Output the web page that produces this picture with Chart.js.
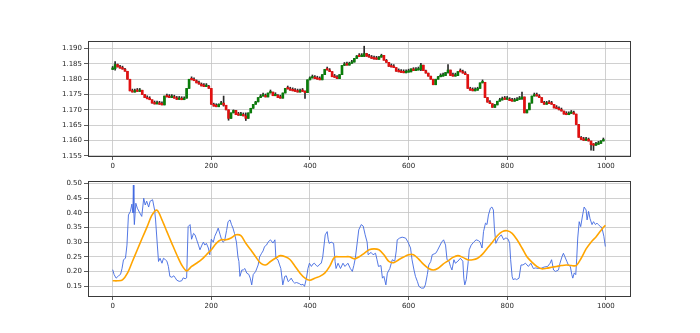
<!DOCTYPE html>
<html>
<head>
<meta charset="utf-8">
<script src="https://cdn.jsdelivr.net/npm/chart.js@4.4.1/dist/chart.umd.min.js"></script>
<style>
  html, body { margin: 0; padding: 0; background: #ffffff; }
  #wrap { position: relative; width: 700px; height: 333px; overflow: hidden; background: #ffffff; }
  #price-canvas { position: absolute; left: 0; top: 0; width: 700px; height: 178px; }
  #vol-canvas { position: absolute; left: 0; top: 165px; width: 700px; height: 168px; }
</style>
</head>
<body>
<div id="wrap">
  <canvas id="price-canvas" width="700" height="178"></canvas>
  <canvas id="vol-canvas" width="700" height="168"></canvas>
</div>
<script>
// price candles, one every 5 bars (open = previous close)
var priceStep = 5;
var firstOpen = 1.1832;
var closes = [
  1.1835, 1.1848, 1.1840, 1.1836, 1.1833, 1.1826, 1.1800, 1.1762, 1.1758, 1.1762,
  1.1760, 1.1764, 1.1750, 1.1740, 1.1736, 1.1733, 1.1722, 1.1719, 1.1721, 1.1718,
  1.1716, 1.1745, 1.1742, 1.1740, 1.1741, 1.1738, 1.1734, 1.1736, 1.1733, 1.1738,
  1.1770, 1.1800, 1.1798, 1.1795, 1.1788, 1.1784, 1.1778, 1.1776, 1.1777, 1.1770,
  1.1718, 1.1712, 1.1710, 1.1718, 1.1722, 1.1715, 1.1700, 1.1672, 1.1690, 1.1698,
  1.1684, 1.1682, 1.1684, 1.1680, 1.1672, 1.1690, 1.1705, 1.1718, 1.1726, 1.1740,
  1.1745, 1.1746, 1.1742, 1.1755, 1.1758, 1.1746, 1.1748, 1.1740, 1.1738, 1.1755,
  1.1770, 1.1768, 1.1764, 1.1762, 1.1760, 1.1758, 1.1762, 1.1760, 1.1756, 1.1798,
  1.1804, 1.1805, 1.1802, 1.1800, 1.1798, 1.1815, 1.1832, 1.1830, 1.1825, 1.1808,
  1.1806, 1.1802, 1.1815, 1.1845, 1.1850, 1.1846, 1.1852, 1.1856, 1.1868, 1.1876,
  1.1874, 1.1875, 1.1884, 1.1875, 1.1872, 1.1868, 1.1866, 1.1865, 1.1872, 1.1878,
  1.1862, 1.1855, 1.1842, 1.1840, 1.1838, 1.1826, 1.1824, 1.1822, 1.1821, 1.1823,
  1.1824, 1.1834, 1.1828, 1.1830, 1.1832, 1.1846, 1.1828, 1.1820, 1.1810, 1.1800,
  1.1782, 1.1800, 1.1808, 1.1810, 1.1812, 1.1822, 1.1830, 1.1812, 1.1810, 1.1812,
  1.1825, 1.1824, 1.1820, 1.1815, 1.1770, 1.1764, 1.1762, 1.1764, 1.1770, 1.1788,
  1.1790, 1.1740, 1.1725, 1.1720, 1.1708, 1.1716, 1.1728, 1.1732, 1.1735, 1.1734,
  1.1735, 1.1730, 1.1728, 1.1730, 1.1734, 1.1736, 1.1742, 1.1690, 1.1700, 1.1722,
  1.1745, 1.1748, 1.1745, 1.1740, 1.1724, 1.1718, 1.1722, 1.1720, 1.1718, 1.1706,
  1.1704, 1.1700, 1.1696, 1.1686, 1.1684, 1.1688, 1.1688, 1.1686, 1.1652, 1.1610,
  1.1603, 1.1600, 1.1604, 1.1598, 1.1586, 1.1584, 1.1587, 1.1590, 1.1598, 1.1602
];

// long wicks that stick out of the band
var spikeX = [5, 225, 235, 270, 390, 510, 625, 680, 830, 970, 975];
var spikeLow = [1.1830, 1.1712, 1.1666, 1.1665, 1.1737, 1.1874, 1.1828, 1.1820, 1.1734, 1.1568, 1.1567];
var spikeHigh = [1.1858, 1.1745, 1.1700, 1.1690, 1.1762, 1.1908, 1.1852, 1.1848, 1.1758, 1.1598, 1.1590];

// lower panel: raw indicator (blue)
var volX = [
  0, 3, 7, 12, 16, 19, 22, 26, 29, 32, 36, 39, 41, 42, 43, 44, 47, 50, 55, 59,
  63, 66, 69, 73, 76, 81, 85, 87, 91, 93, 96, 100, 103, 107, 110, 113, 116, 120, 124, 127,
  130, 135, 140, 143, 147, 150, 153, 157, 160, 164, 167, 170, 174, 177, 181, 184, 187, 190, 194, 197,
  200, 204, 207, 211, 214, 218, 221, 224, 227, 231, 234, 238, 241, 244, 247, 251, 254, 256, 258, 262,
  265, 268, 272, 276, 279, 282, 285, 290, 295, 298, 302, 305, 308, 312, 315, 320, 325, 329, 331, 335,
  338, 341, 345, 349, 352, 356, 359, 362, 366, 369, 373, 376, 379, 382, 386, 389, 393, 396, 399, 403,
  406, 409, 413, 416, 420, 423, 426, 428, 431, 435, 437, 439, 443, 448, 451, 453, 457, 462, 467, 471,
  477, 482, 486, 489, 492, 496, 499, 504, 508, 512, 516, 518, 520, 524, 528, 533, 536, 539, 544, 547,
  550, 554, 557, 562, 567, 572, 575, 577, 582, 587, 594, 599, 604, 607, 611, 614, 618, 621, 626, 631,
  634, 638, 641, 645, 648, 652, 655, 658, 661, 667, 671, 675, 678, 682, 685, 688, 692, 695, 700, 705,
  710, 712, 714, 717, 721, 723, 727, 732, 737, 742, 745, 749, 752, 756, 759, 762, 766, 769, 772, 774,
  777, 782, 788, 793, 796, 798, 802, 805, 807, 810, 812, 816, 819, 824, 828, 832, 837, 843, 848, 853,
  858, 863, 868, 875, 882, 887, 890, 894, 898, 904, 907, 911, 914, 917, 921, 924, 928, 931, 933, 936,
  939, 941, 943, 946, 949, 953, 956, 960, 962, 965, 968, 972, 975, 979, 982, 985, 989, 992, 996, 999
];
var volY = [
  0.206, 0.189, 0.177, 0.185, 0.190, 0.210, 0.240, 0.245, 0.290, 0.393, 0.405, 0.430, 0.400, 0.495, 0.400, 0.360, 0.433, 0.416, 0.400, 0.388,
  0.450, 0.427, 0.440, 0.420, 0.440, 0.445, 0.410, 0.376, 0.280, 0.234, 0.245, 0.228, 0.245, 0.240, 0.235, 0.217, 0.183, 0.180, 0.185, 0.178,
  0.170, 0.166, 0.168, 0.178, 0.175, 0.178, 0.353, 0.360, 0.310, 0.330, 0.325, 0.310, 0.290, 0.274, 0.290, 0.300, 0.290, 0.296, 0.280, 0.257,
  0.310, 0.300, 0.320, 0.335, 0.348, 0.325, 0.308, 0.300, 0.305, 0.340, 0.370, 0.376, 0.360, 0.348, 0.330, 0.300, 0.250, 0.234, 0.183, 0.205,
  0.205, 0.210, 0.194, 0.190, 0.177, 0.154, 0.189, 0.200, 0.222, 0.250, 0.262, 0.270, 0.285, 0.290, 0.300, 0.308, 0.297, 0.308, 0.245, 0.240,
  0.225, 0.210, 0.154, 0.183, 0.185, 0.165, 0.170, 0.177, 0.165, 0.160, 0.162, 0.160, 0.158, 0.154, 0.156, 0.149, 0.177, 0.210, 0.228, 0.217,
  0.225, 0.228, 0.220, 0.217, 0.225, 0.228, 0.250, 0.280, 0.325, 0.336, 0.310, 0.296, 0.300, 0.296, 0.234, 0.210, 0.228, 0.210, 0.228, 0.217,
  0.228, 0.210, 0.200, 0.220, 0.245, 0.300, 0.342, 0.360, 0.355, 0.325, 0.300, 0.257, 0.260, 0.265, 0.257, 0.262, 0.240, 0.217, 0.220, 0.177,
  0.183, 0.154, 0.194, 0.210, 0.240, 0.235, 0.270, 0.308, 0.314, 0.317, 0.314, 0.300, 0.280, 0.240, 0.205, 0.183, 0.165, 0.149, 0.143, 0.143,
  0.154, 0.189, 0.222, 0.234, 0.257, 0.260, 0.262, 0.270, 0.280, 0.300, 0.308, 0.290, 0.240, 0.235, 0.217, 0.205, 0.240, 0.228, 0.235, 0.245,
  0.235, 0.177, 0.154, 0.172, 0.234, 0.274, 0.290, 0.300, 0.308, 0.305, 0.300, 0.280, 0.336, 0.365, 0.360, 0.393, 0.416, 0.420, 0.410, 0.348,
  0.296, 0.314, 0.325, 0.308, 0.314, 0.314, 0.310, 0.296, 0.240, 0.183, 0.172, 0.175, 0.172, 0.177, 0.222, 0.222, 0.228, 0.217, 0.228, 0.210,
  0.212, 0.210, 0.210, 0.215, 0.217, 0.228, 0.240, 0.205, 0.200, 0.205, 0.228, 0.250, 0.262, 0.250, 0.234, 0.222, 0.217, 0.189, 0.177, 0.195,
  0.189, 0.245, 0.314, 0.370, 0.353, 0.393, 0.420, 0.410, 0.376, 0.405, 0.380, 0.360, 0.370, 0.360, 0.365, 0.360, 0.353, 0.350, 0.320, 0.285
];

// lower panel: smoothed line (orange), one value every 10 bars, last at 999
var trendStep = 10;
var trendY = [
  0.168, 0.168, 0.171, 0.194, 0.234, 0.274, 0.314, 0.353, 0.393, 0.409,
  0.376, 0.336, 0.296, 0.257, 0.222, 0.202, 0.217, 0.228, 0.240, 0.257,
  0.274, 0.296, 0.308, 0.308, 0.314, 0.325, 0.322, 0.296, 0.274, 0.250,
  0.228, 0.222, 0.234, 0.245, 0.254, 0.250, 0.240, 0.217, 0.194, 0.177,
  0.170, 0.177, 0.183, 0.194, 0.217, 0.249, 0.250, 0.250, 0.250, 0.243,
  0.250, 0.262, 0.274, 0.277, 0.274, 0.257, 0.234, 0.230, 0.240, 0.249,
  0.257, 0.257, 0.243, 0.225, 0.211, 0.205, 0.211, 0.225, 0.236, 0.248,
  0.254, 0.248, 0.240, 0.240, 0.245, 0.259, 0.280, 0.300, 0.322, 0.336,
  0.339, 0.330, 0.308, 0.280, 0.250, 0.232, 0.217, 0.209, 0.211, 0.214,
  0.217, 0.220, 0.222, 0.220, 0.220, 0.245, 0.277, 0.300, 0.318, 0.340,
  0.358
];

var xTicks = [0, 200, 400, 600, 800, 1000];
var priceTicks = [1.155, 1.160, 1.165, 1.170, 1.175, 1.180, 1.185, 1.190];
var volTicks = [0.15, 0.20, 0.25, 0.30, 0.35, 0.40, 0.45, 0.50];

(function () {
  var tickFont = { family: "DejaVu Sans", size: 7 };
  var textColor = "#262626";
  var gridColor = "#c4c4c4";

  var frame = {
    id: "frame",
    afterDraw: function (chart) {
      var a = chart.chartArea;
      var ctx = chart.ctx;
      ctx.save();
      ctx.strokeStyle = "#3a3a3a";
      ctx.lineWidth = 1;
      ctx.strokeRect(Math.round(a.left) + 0.5, Math.round(a.top) + 0.5,
        Math.round(a.right - a.left), Math.round(a.bottom - a.top));
      ctx.restore();
    },
  };

  function fixedTicks(values) {
    return function (scale) {
      scale.ticks = values.map(function (v) {
        return { value: v };
      });
    };
  }

  function xScale() {
    return {
      type: "linear",
      min: -50,
      max: 1049,
      offset: false,
      afterBuildTicks: fixedTicks(xTicks),
      afterFit: function (scale) {
        scale.height = 20;
      },
      grid: {
        color: gridColor,
        lineWidth: 0.8,
        offset: false,
        tickLength: 4,
        tickColor: "#333333",
      },
      border: { display: false },
      ticks: {
        autoSkip: false,
        maxRotation: 0,
        padding: 2,
        color: textColor,
        font: tickFont,
        callback: function (v) {
          return String(v);
        },
      },
    };
  }

  function yScale(min, max, values, digits) {
    return {
      type: "linear",
      min: min,
      max: max,
      afterBuildTicks: fixedTicks(values),
      afterFit: function (scale) {
        scale.width = 45;
      },
      grid: {
        color: gridColor,
        lineWidth: 0.8,
        tickLength: 4,
        tickColor: "#333333",
      },
      border: { display: false },
      ticks: {
        padding: 2,
        color: textColor,
        font: tickFont,
        callback: function (v) {
          return Number(v).toFixed(digits);
        },
      },
    };
  }

  function findSpike(x) {
    var k = spikeX.indexOf(x);
    return k === -1 ? null : { low: spikeLow[k], high: spikeHigh[k] };
  }

  // candles
  var bodies = [];
  var wicks = [];
  var bodyColors = [];
  var prev = firstOpen;
  closes.forEach(function (c, i) {
    var x = i * priceStep;
    var spike = findSpike(x);
    bodies.push({ x: x, y: [prev, c] });
    wicks.push({
      x: x,
      y: spike ? [spike.low, spike.high] : [Math.min(prev, c), Math.max(prev, c)],
    });
    bodyColors.push(c >= prev ? "#0a7d0a" : "#e31010");
    prev = c;
  });

  new Chart(document.getElementById("price-canvas"), {
    type: "bar",
    data: {
      datasets: [
        {
          label: "wick",
          data: wicks,
          backgroundColor: "#2a2a2a",
          barThickness: 1,
          minBarLength: 3,
          grouped: false,
          order: 2,
        },
        {
          label: "body",
          data: bodies,
          backgroundColor: bodyColors,
          barThickness: 2,
          minBarLength: 1.5,
          grouped: false,
          order: 1,
        },
      ],
    },
    options: {
      responsive: false,
      animation: false,
      devicePixelRatio: 1,
      layout: { padding: { left: 43, right: 70, top: 41, bottom: 2 } },
      plugins: { legend: { display: false }, tooltip: { enabled: false } },
      scales: {
        x: xScale(),
        y: yScale(1.1549, 1.1925, priceTicks, 3),
      },
    },
    plugins: [frame],
  });

  var volPoints = volX.map(function (x, i) {
    return { x: x, y: volY[i] };
  });
  var trendPoints = trendY.map(function (v, i) {
    return { x: Math.min(i * trendStep, 999), y: v };
  });

  new Chart(document.getElementById("vol-canvas"), {
    type: "line",
    data: {
      datasets: [
        {
          label: "raw",
          data: volPoints,
          borderColor: "#4169e1",
          borderWidth: 0.9,
          pointRadius: 0,
          tension: 0,
          order: 2,
        },
        {
          label: "smooth",
          data: trendPoints,
          borderColor: "#ffa500",
          borderWidth: 1.6,
          pointRadius: 0,
          tension: 0.3,
          order: 1,
        },
      ],
    },
    options: {
      responsive: false,
      animation: false,
      devicePixelRatio: 1,
      layout: { padding: { left: 43, right: 70, top: 16, bottom: 17 } },
      plugins: { legend: { display: false }, tooltip: { enabled: false } },
      scales: {
        x: xScale(),
        y: yScale(0.116, 0.509, volTicks, 2),
      },
    },
    plugins: [frame],
  });
})();
</script>
</body>
</html>
